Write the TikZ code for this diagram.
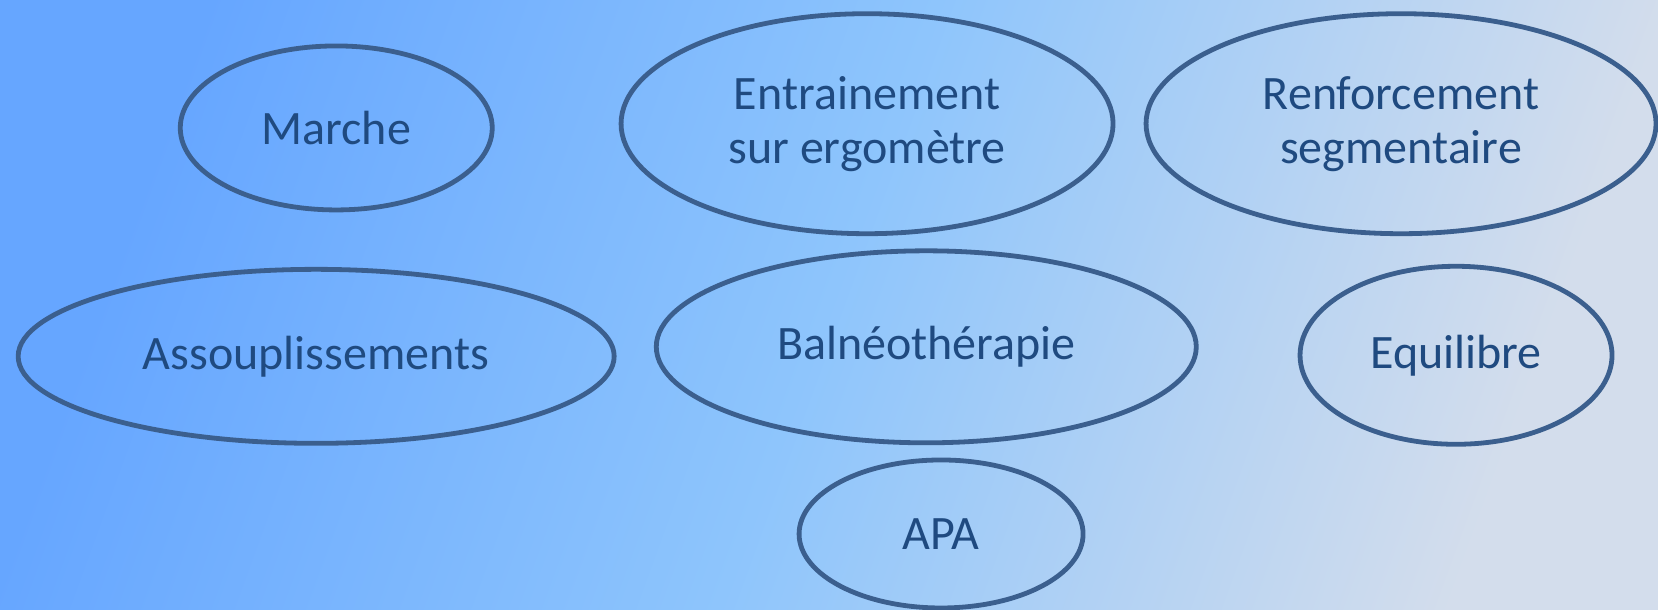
\documentclass[tikz,border=0pt]{standalone}
\usepackage{fontspec}
\setmainfont{Carlito}
\usetikzlibrary{shapes.geometric}
\definecolor{bgA}{HTML}{66A6FF}
\definecolor{bgB}{HTML}{8EC5FC}
\definecolor{bgC}{HTML}{D3DDEC}
\definecolor{rim}{HTML}{3B5F8E}
\definecolor{ink}{HTML}{1F4A80}
\pgfdeclarehorizontalshading{backdrop}{100bp}{color(0bp)=(bgA); color(25bp)=(bgA); color(50bp)=(bgB); color(75bp)=(bgC); color(100bp)=(bgC)}
\begin{document}
\begin{tikzpicture}[x=0.5287pt, y=-0.5287pt,
  bubble/.style={ellipse, draw=rim, line width=2.4pt, inner sep=0pt, text=ink,
    align=center, font=\fontsize{24}{27}\selectfont}]
  % background
  \shade[shading=backdrop, shading angle=-20] (0,0) rectangle (1568,576);
  \useasboundingbox (0,0) rectangle (1568,576);

  % first row
  \node[bubble, minimum width=156pt, minimum height=82pt] (marche) at (318,121) {Marche};
  \node[bubble, minimum width=246pt, minimum height=110pt] (ergo) at (820,117) {Entrainement\\sur ergomètre};
  \node[bubble, minimum width=255pt, minimum height=110pt] (renfo) at (1325,117) {Renforcement\\segmentaire};

  % second row
  \node[bubble, minimum width=298pt, minimum height=87pt] (assoup) at (299,337) {Assouplissements};
  \node[bubble, minimum width=270pt, minimum height=96pt] (balneo) at (876,328) {Balnéothérapie};
  \node[bubble, minimum width=156pt, minimum height=89pt] (equil) at (1377,336) {Equilibre};

  % bottom
  \node[bubble, minimum width=142pt, minimum height=74pt] (apa) at (890,505) {APA};
\end{tikzpicture}
\end{document}
